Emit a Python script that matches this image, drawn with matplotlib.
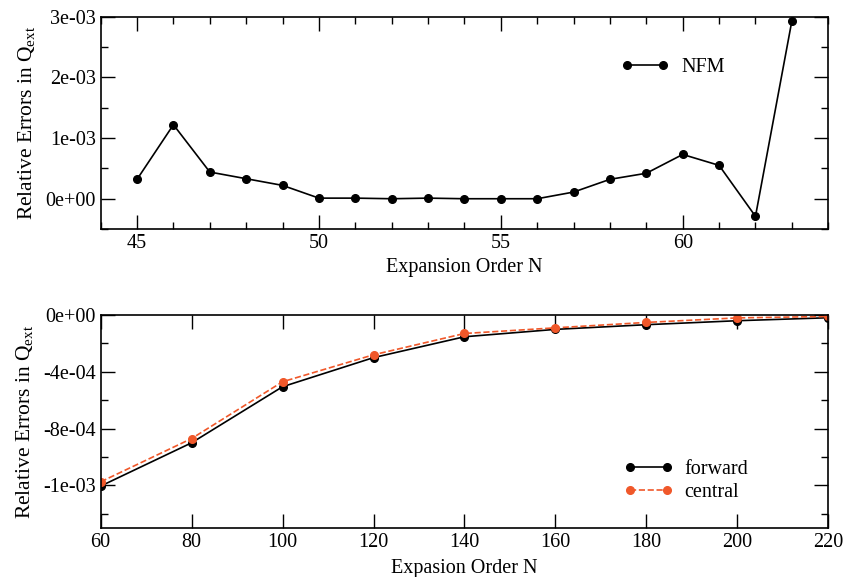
import numpy as np
import matplotlib
matplotlib.use('Agg')
import matplotlib.pyplot as plt
from matplotlib.ticker import FuncFormatter, MultipleLocator

plt.rcParams['font.family'] = ['Liberation Serif', 'DejaVu Serif']
plt.rcParams['mathtext.fontset'] = 'custom'
plt.rcParams['mathtext.rm'] = 'Liberation Serif'

# NFM convergence vs expansion order
nfm_order = [45, 46, 47, 48, 49, 50, 51, 52, 53, 54, 55, 56, 57, 58, 59, 60, 61, 62, 63]
nfm_err = [0.32e-3, 1.22e-3, 0.44e-3, 0.33e-3, 0.22e-3, 0.01e-3, 0.01e-3, 0.0, 0.01e-3,
           0.0, 0.0, 0.0, 0.11e-3, 0.32e-3, 0.42e-3, 0.73e-3, 0.55e-3, -0.29e-3, 2.93e-3]

# finite difference schemes
fd_order = [60, 80, 100, 120, 140, 160, 180, 200, 220]
forward_err = [-1.205e-3, -0.90e-3, -0.505e-3, -0.30e-3, -0.153e-3, -0.101e-3, -0.068e-3, -0.040e-3, -0.019e-3]
central_err = [-1.175e-3, -0.87e-3, -0.47e-3, -0.28e-3, -0.130e-3, -0.090e-3, -0.052e-3, -0.020e-3, -0.010e-3]

top_yticks = [0.0, 1e-3, 2e-3, 3e-3]
bot_yticks = [0.0, -4e-4, -8e-4, -1.2e-3]

ORANGE = '#f0582a'
ylab = r'Relative Errors in $\mathrm{Q_{ext}}$'
sci = FuncFormatter(lambda v, p: '%.0e' % v)
FS = 14.5


def style_axes(ax):
    ax.tick_params(which='both', direction='in', top=True, right=True, labelsize=FS)
    ax.tick_params(which='major', length=10, width=1)
    ax.tick_params(which='minor', length=5, width=1)
    for s in ax.spines.values():
        s.set_linewidth(1.2)


fig = plt.figure(figsize=(8.46, 5.77), dpi=100)
ax1 = fig.add_axes([0.119, 0.603, 0.860, 0.368])
ax2 = fig.add_axes([0.119, 0.085, 0.860, 0.369])

ax1.plot(nfm_order, nfm_err, 'k-', marker='o', ms=5.5, lw=1.2, label='NFM')
ax1.set_xlim(44, 64)
ax1.set_ylim(-5e-4, 3e-3)
ax1.xaxis.set_major_locator(MultipleLocator(5))
ax1.xaxis.set_minor_locator(MultipleLocator(1))
ax1.set_yticks(top_yticks)
ax1.yaxis.set_minor_locator(MultipleLocator(5e-4))
ax1.yaxis.set_major_formatter(sci)
ax1.set_xlabel('Expansion Order N', fontsize=FS, labelpad=4)
ax1.set_ylabel(ylab, fontsize=15.5, labelpad=6)
style_axes(ax1)
ax1.legend(loc='center', bbox_to_anchor=(0.786, 0.76), frameon=False, fontsize=FS,
           handlelength=2.4, handletextpad=0.6, numpoints=2)

ax2.plot(fd_order, forward_err, 'k-', marker='o', ms=5.5, lw=1.2, label='forward')
ax2.plot(fd_order, central_err, '--', color=ORANGE, marker='o', ms=5.5, lw=1.2, label='central')
ax2.set_xlim(60, 220)
ax2.set_ylim(-1.5e-3, 0)
ax2.xaxis.set_major_locator(MultipleLocator(20))
ax2.set_yticks(bot_yticks)
ax2.yaxis.set_minor_locator(MultipleLocator(2e-4))
ax2.yaxis.set_major_formatter(sci)
ax2.set_xlabel('Expasion Order N', fontsize=FS, labelpad=5)
ax2.set_ylabel(ylab, fontsize=15.5, labelpad=6)
style_axes(ax2)
ax2.legend(loc='center', bbox_to_anchor=(0.805, 0.22), frameon=False, fontsize=FS,
           handlelength=2.4, handletextpad=0.6, labelspacing=0.2, numpoints=2)

fig.savefig('out.png', dpi=100)
